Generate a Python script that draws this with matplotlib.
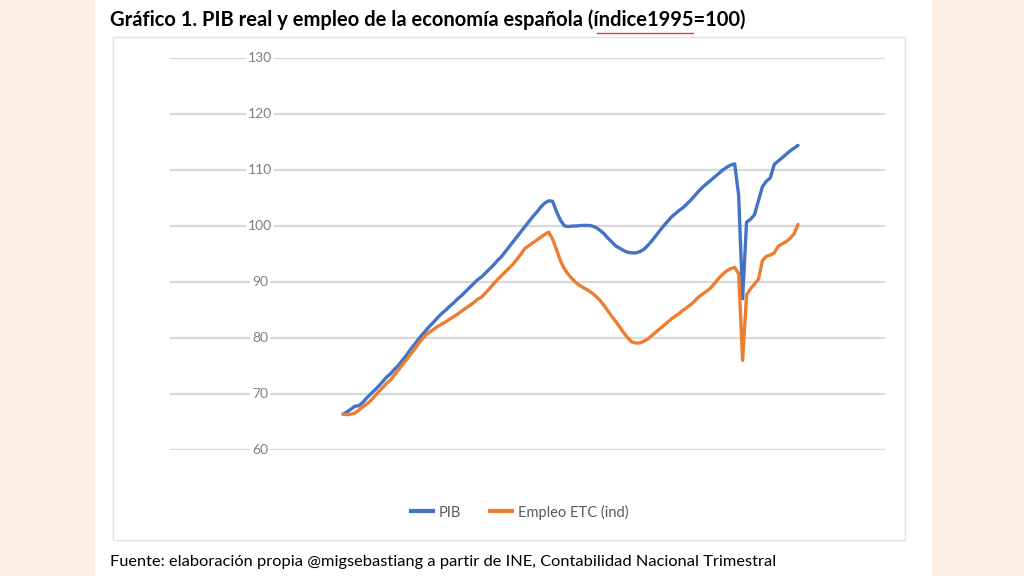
import matplotlib
matplotlib.use("Agg")
import matplotlib.pyplot as plt
from matplotlib.patches import Rectangle
from matplotlib.lines import Line2D
import matplotlib.transforms as mtransforms

# ---------------- data (quarterly, 1995Q1 .. 2023Q4) ----------------
pib = [
    66.4, 66.8, 67.3, 67.8, 67.9, 68.5, 69.3, 70.0, 70.7, 71.4,
    72.2, 73.0, 73.6, 74.4, 75.1, 76.0, 76.9, 77.9, 78.8, 79.7,
    80.6, 81.4, 82.2, 82.9, 83.7, 84.4, 85.0, 85.7, 86.3, 87.0,
    87.6, 88.3, 89.0, 89.7, 90.4, 90.9, 91.6, 92.3, 93.0, 93.8,
    94.5, 95.4, 96.3, 97.2, 98.1, 99.0, 99.9, 100.8, 101.7, 102.5,
    103.4, 104.1, 104.5, 104.4, 102.5, 101.0, 100.0, 99.9, 100.0, 100.0,
    100.1, 100.1, 100.1, 100.0, 99.7, 99.2, 98.6, 97.8, 97.1, 96.4,
    96.0, 95.6, 95.3, 95.2, 95.2, 95.4, 95.8, 96.5, 97.3, 98.2,
    99.1, 100.0, 100.8, 101.6, 102.2, 102.8, 103.3, 104.0, 104.7, 105.5,
    106.3, 107.0, 107.6, 108.2, 108.8, 109.4, 110.0, 110.5, 110.9, 111.1,
    105.5, 87.0, 100.7, 101.2, 102.0, 104.5, 107.0, 108.0, 108.6, 111.0,
    111.6, 112.2, 112.8, 113.4, 113.9, 114.4,
]
empleo = [
    66.4, 66.3, 66.4, 66.6, 67.1, 67.7, 68.2, 68.8, 69.6, 70.4,
    71.1, 71.9, 72.5, 73.4, 74.3, 75.2, 76.1, 77.0, 77.9, 78.9,
    79.8, 80.6, 81.1, 81.6, 82.1, 82.5, 82.9, 83.4, 83.8, 84.3,
    84.8, 85.3, 85.8, 86.3, 86.9, 87.3, 88.0, 88.8, 89.6, 90.4,
    91.1, 91.8, 92.5, 93.2, 94.1, 95.0, 96.0, 96.5, 97.0, 97.5,
    98.0, 98.5, 98.9, 97.6, 95.7, 93.7, 92.3, 91.3, 90.5, 89.8,
    89.3, 88.9, 88.5, 88.0, 87.4, 86.7, 85.8, 84.8, 83.8, 82.9,
    81.9, 80.9, 80.0, 79.3, 79.1, 79.1, 79.4, 79.8, 80.4, 81.0,
    81.6, 82.2, 82.8, 83.4, 83.9, 84.4, 85.0, 85.5, 86.0, 86.7,
    87.4, 87.9, 88.4, 89.0, 89.8, 90.7, 91.4, 92.0, 92.4, 92.6,
    91.5, 76.0, 87.7, 88.8, 89.6, 90.5, 93.8, 94.6, 94.8, 95.2,
    96.4, 96.8, 97.2, 97.8, 98.6, 100.3,
]
quarters = list(range(len(pib)))
y_ticks = [60, 70, 80, 90, 100, 110, 120, 130]
series_names = ["PIB", "Empleo ETC (ind)"]
title_text = "Gráfico 1. PIB real y empleo de la economía española (índice1995=100)"
source_text = "Fuente: elaboración propia @migsebastiang a partir de INE, Contabilidad Nacional Trimestral"

# ---------------- styling ----------------
W, H = 1024, 576
PEACH = "#FDEFE4"
BLUE = "#4472C4"
ORANGE = "#ED7D31"
GRID = "#D9D9D9"
FONT = "Lato"

fig = plt.figure(figsize=(W / 100, H / 100), dpi=100, facecolor=PEACH)

def fx(px):
    return px / W

def fy(py):
    return 1 - py / H

# white panel
fig.patches.append(Rectangle((fx(95), 0), fx(932) - fx(95), 1,
                             transform=fig.transFigure, facecolor="white",
                             edgecolor="none", zorder=-2))
# chart border
fig.patches.append(Rectangle((fx(113), fy(540)), fx(905) - fx(113), fy(37) - fy(540),
                             transform=fig.transFigure, facecolor="none",
                             edgecolor="#E3E3E3", linewidth=1.0, zorder=-1))

# axes: gridlines from x=170 to 885, y=58 (130) to 450 (60)
ax = fig.add_axes([fx(170), fy(450), fx(885) - fx(170), fy(58) - fy(450)])
ax.set_zorder(2)
ax.set_facecolor("none")
px_per_q = (798 - 343) / (len(pib) - 1)
ax.set_xlim(-(343 - 170) / px_per_q, (len(pib) - 1) + (885 - 798) / px_per_q)
ax.set_ylim(60, 130)
ax.set_yticks(y_ticks)
ax.set_xticks([])
ax.tick_params(axis="y", length=0, labelleft=False)
for s in ax.spines.values():
    s.set_visible(False)
ax.yaxis.grid(True, color=GRID, linewidth=1.6)
ax.set_axisbelow(True)

trans = mtransforms.blended_transform_factory(ax.transAxes, ax.transData)
for v in y_ticks:
    ax.text((260 - 170) / (885 - 170), v, str(v), transform=trans, ha="center",
            va="center", fontsize=10, color="#7F7F7F", family=FONT,
            bbox=dict(facecolor="white", edgecolor="none", pad=1.5), zorder=3)

ax.plot(quarters, pib, color=BLUE, linewidth=2.4, solid_capstyle="round",
        solid_joinstyle="round", zorder=4)
ax.plot(quarters, empleo, color=ORANGE, linewidth=2.4, solid_capstyle="round",
        solid_joinstyle="round", zorder=4)

handles = [Line2D([], [], color=BLUE, linewidth=3),
           Line2D([], [], color=ORANGE, linewidth=3)]
fig.legend(handles, series_names, loc="center", bbox_to_anchor=(fx(520), fy(512)),
           ncol=2, frameon=False, handlelength=1.5, handletextpad=0.4,
           columnspacing=2.0, prop={"family": FONT, "size": 10.5},
           labelcolor="#595959")

# title and source
fig.text(fx(110), fy(20), title_text, ha="left", va="center", fontsize=14.5,
         fontweight="bold", family=FONT, color="black")
fig.add_artist(Line2D([fx(597), fx(693)], [fy(33), fy(33)], color="#E04040",
                      linewidth=1.0, transform=fig.transFigure))
fig.text(fx(110), fy(562), source_text, ha="left", va="center", fontsize=11.8,
         family=FONT, color="black")

fig.savefig("out.png", dpi=100, facecolor=PEACH)
